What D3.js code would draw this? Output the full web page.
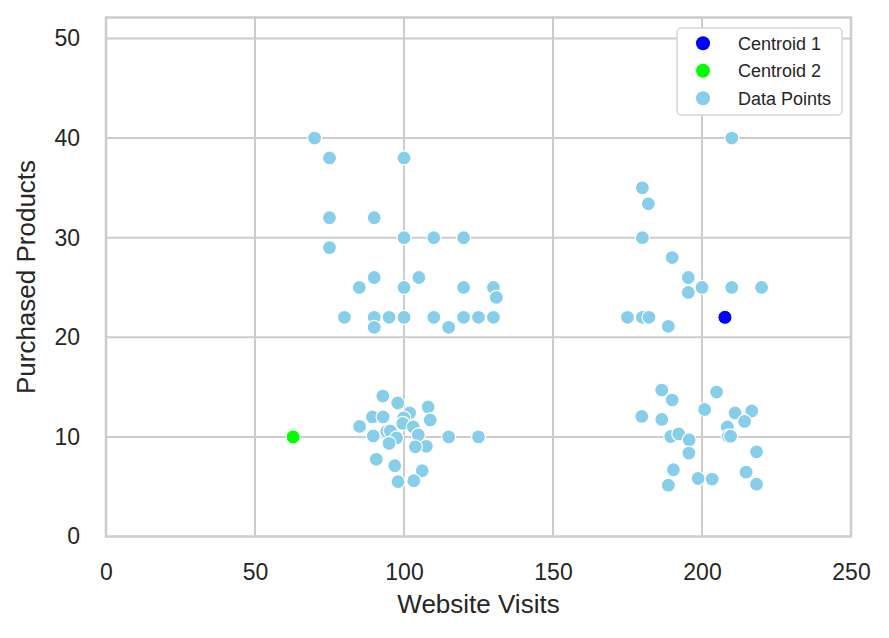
<!DOCTYPE html>
<html>
<head>
<meta charset="utf-8">
<script src="https://cdn.jsdelivr.net/npm/d3@7"></script>
<style>
  body { margin: 0; background: #fff; }
  text { font-family: "Liberation Sans", Arial, sans-serif; fill: #262626; }
</style>
</head>
<body>
<svg id="bg" width="889" height="638"></svg>
<script>
// data points (website visits, purchased products)
var visits = [
  70, 75, 100, 75, 90, 75, 100, 110, 120, 90, 85, 100, 105, 120, 130, 131,
  80, 90, 90, 95, 100, 110, 115, 120, 125, 130,
  92.9, 97.9, 108.1, 89.4, 93.0, 85.1, 101.9, 99.9, 108.8, 99.6, 103.1, 89.7,
  94.2, 95.4, 97.5, 95.0, 104.8, 107.5, 103.8, 115, 125, 90.7, 96.9, 106.1, 98, 103.3,
  210, 180, 182, 180, 190, 195.4, 200, 195.4, 210, 220, 175, 180, 182.2, 188.7,
  186.5, 190, 204.9, 200.9, 179.8, 186.5, 211.1, 216.7, 214.3, 208.5, 208.8, 209.6,
  189.5, 192.2, 195.7, 195.6, 218.3, 190.4, 188.7, 198.7, 203.4, 214.8, 218.3
];
var purchases = [
  40, 38, 38, 32, 32, 29, 30, 30, 30, 26, 25, 25, 26, 25, 25, 24,
  22, 22, 21, 22, 22, 22, 21, 22, 22, 22,
  14.1, 13.4, 13.0, 12.0, 12.0, 11.05, 12.4, 11.9, 11.7, 11.35, 11.0, 10.1,
  10.55, 10.6, 9.9, 9.35, 10.2, 9.05, 9.0, 10, 10, 7.75, 7.1, 6.6, 5.5, 5.6,
  40, 35, 33.4, 30, 28, 26, 25, 24.5, 25, 25, 22, 22, 22, 21.1,
  14.7, 13.7, 14.5, 12.75, 12.05, 11.75, 12.4, 12.6, 11.55, 11.0, 10.07, 10.07,
  10.04, 10.3, 9.7, 8.37, 8.5, 6.7, 5.15, 5.82, 5.76, 6.46, 5.25
];

// centroids
var centroidNames = ['Centroid 1', 'Centroid 2'];
var centroidVisits = [207.7, 62.8];
var centroidPurchases = [22.0, 10.0];
var centroidColors = ['#0000ff', '#00ff00'];

var legendNames = ['Centroid 1', 'Centroid 2', 'Data Points'];
var legendColors = ['#0000ff', '#00ff00', '#87ceeb'];

var xTicks = [0, 50, 100, 150, 200, 250];
var yTicks = [0, 10, 20, 30, 40, 50];

var mLeft = 106, mRight = 851, mTop = 17.5, mBottom = 536.5;

var xScale = d3.scaleLinear()
  .domain([0, 250])
  .range([mLeft, mRight]);

var yScale = d3.scaleLinear()
  .domain([0, 52.1])
  .range([mBottom, mTop]);

var svg = d3.select('#bg');

// grid
svg.selectAll('.gx')
  .data(xTicks.slice(1, -1))
  .join('line')
  .attr('class', 'gx')
  .attr('x1', d => xScale(d))
  .attr('x2', d => xScale(d))
  .attr('y1', mTop)
  .attr('y2', mBottom)
  .attr('stroke', '#cccccc')
  .attr('stroke-width', 2);

svg.selectAll('.gy')
  .data(yTicks.slice(1))
  .join('line')
  .attr('class', 'gy')
  .attr('x1', mLeft)
  .attr('x2', mRight)
  .attr('y1', d => yScale(d))
  .attr('y2', d => yScale(d))
  .attr('stroke', '#cccccc')
  .attr('stroke-width', 2);

// axes
var xAxis = svg.append('g')
  .attr('transform', 'translate(0,' + mBottom + ')')
  .call(d3.axisBottom(xScale).tickValues(xTicks).tickSize(0).tickPadding(27));

var yAxis = svg.append('g')
  .attr('transform', 'translate(' + mLeft + ',0)')
  .call(d3.axisLeft(yScale).tickValues(yTicks).tickSize(0).tickPadding(26));

[xAxis, yAxis].forEach(function(g) {
  g.select('.domain').remove();
  g.selectAll('text')
    .attr('font-size', 23)
    .attr('font-family', '"Liberation Sans", Arial, sans-serif')
    .attr('fill', '#262626');
});

// frame
svg.append('rect')
  .attr('x', mLeft)
  .attr('y', mTop)
  .attr('width', mRight - mLeft)
  .attr('height', mBottom - mTop)
  .attr('fill', 'none')
  .attr('stroke', '#cccccc')
  .attr('stroke-width', 2.5);

// centroids
svg.selectAll('.centroid')
  .data(centroidNames)
  .join('circle')
  .attr('class', 'centroid')
  .attr('cx', (d, i) => xScale(centroidVisits[i]))
  .attr('cy', (d, i) => yScale(centroidPurchases[i]))
  .attr('r', 7)
  .attr('fill', (d, i) => centroidColors[i])
  .attr('stroke', '#fff')
  .attr('stroke-width', 1);

// data points
svg.selectAll('.pt')
  .data(visits)
  .join('circle')
  .attr('class', 'pt')
  .attr('cx', d => xScale(d))
  .attr('cy', (d, i) => yScale(purchases[i]))
  .attr('r', 7)
  .attr('fill', '#87ceeb')
  .attr('stroke', '#fff')
  .attr('stroke-width', 1.2);

// axis labels
svg.append('text')
  .attr('x', (mLeft + mRight) / 2)
  .attr('y', 613)
  .attr('text-anchor', 'middle')
  .attr('font-size', 26)
  .text('Website Visits');

svg.append('text')
  .attr('transform', 'translate(35,' + (mTop + mBottom) / 2 + ') rotate(-90)')
  .attr('text-anchor', 'middle')
  .attr('font-size', 26)
  .text('Purchased Products');

// legend
var legend = svg.append('g');

legend.append('rect')
  .attr('x', 677)
  .attr('y', 28)
  .attr('width', 165)
  .attr('height', 87)
  .attr('rx', 4)
  .attr('fill', '#fff')
  .attr('stroke', '#d6d6d6')
  .attr('stroke-width', 1.5);

var items = legend.selectAll('.item')
  .data(legendNames)
  .join('g')
  .attr('class', 'item')
  .attr('transform', (d, i) => 'translate(703,' + (43.3 + i * 27.5) + ')');

items.append('circle')
  .attr('r', 7)
  .attr('fill', (d, i) => legendColors[i]);

items.append('text')
  .attr('x', 35)
  .attr('dy', '0.35em')
  .attr('font-size', 18)
  .text(d => d);
</script>
</body>
</html>
